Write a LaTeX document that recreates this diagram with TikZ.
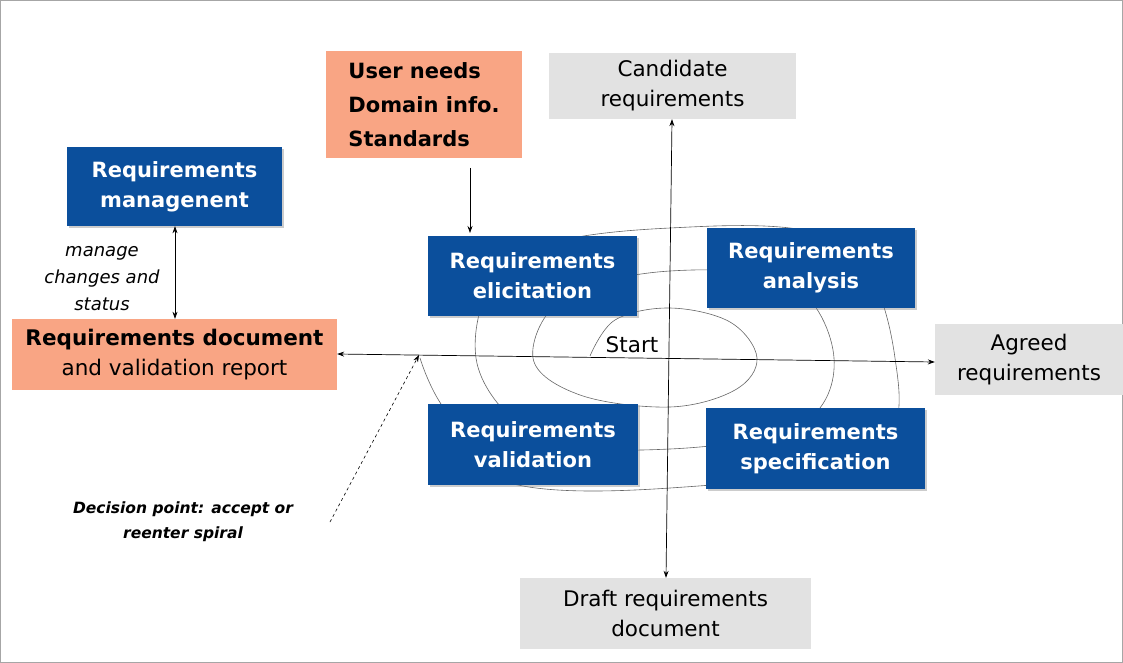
\documentclass[tikz,border=0pt]{standalone}
\usepackage{fontspec}
\setmainfont{DejaVu Sans}
\usetikzlibrary{arrows.meta,shadows}
\definecolor{bluebox}{HTML}{0B4F9C}
\definecolor{salmon}{HTML}{F9A584}
\definecolor{graybox}{HTML}{E2E2E2}
\tikzset{
 bluestep/.style={draw=none,fill=bluebox,text=white,font=\fontsize{21}{30}\selectfont\bfseries,align=center,drop shadow={shadow xshift=2pt,shadow yshift=-2pt,opacity=0.4}},
 salmonbox/.style={fill=salmon,align=center},
 grayb/.style={fill=graybox,align=center,font=\fontsize{21.5}{30}\selectfont},
 arr/.style={-{Stealth[length=7pt,width=5pt]},line width=0.7pt},
 darr/.style={{Stealth[length=7pt,width=5pt]}-{Stealth[length=7pt,width=5pt]},line width=0.7pt},
}
\begin{document}
\begin{tikzpicture}[x=1pt,y=-1pt]
\useasboundingbox (0,0) rectangle (1123,663);
\draw[gray!70] (0.5,0.5) rectangle (1122.5,662.5);
% spiral
\draw[gray!80!black,line width=0.6pt] plot[smooth,tension=0.6] coordinates{(590,356) (615,320) (670,308) (730,322) (757,358) (735,390) (670,407) (580,395) (533,358) (565,297) (670,271) (790,283) (834,358) (800,425) (670,449) (540,437) (476,358) (515,258) (670,228) (840,242) (895,358) (870,455) (670,488) (500,480) (441,404) (420,358)};
% nodes
\node[salmonbox,minimum width=196pt,minimum height=107pt,font=\fontsize{21}{34}\selectfont\bfseries,align=left] (user) at (424,104.5) {User needs\\Domain info.\\Standards};
\node[grayb,minimum width=247pt,minimum height=66pt] (cand) at (672.5,86) {Candidate\\requirements};
\node[bluestep,minimum width=215pt,minimum height=79pt] (mgmt) at (174.5,186.5) {Requirements\\managenent};
\node[bluestep,minimum width=209pt,minimum height=80pt] (elic) at (532.5,276) {Requirements\\elicitation};
\node[bluestep,minimum width=208pt,minimum height=80pt] (anal) at (811,268) {Requirements\\analysis};
\node[salmonbox,minimum width=325pt,minimum height=71pt,font=\fontsize{21.5}{30}\selectfont] (doc) at (174.5,354.5) {\textbf{Requirements document}\\and validation report};
\node[grayb,minimum width=188pt,minimum height=71pt] (agreed) at (1029,359.5) {Agreed\\requirements};
\node[bluestep,minimum width=210pt,minimum height=81pt] (valid) at (533,444.5) {Requirements\\validation};
\node[bluestep,minimum width=219pt,minimum height=81pt] (spec) at (815.5,448.5) {Requirements\\specification};
\node[grayb,minimum width=291pt,minimum height=71pt] (draft) at (665.5,613.5) {Draft requirements\\document};
\node[font=\fontsize{21.5}{26}\selectfont] (start) at (632,345) {Start};
\node[font=\fontsize{18}{27}\selectfont\itshape,align=center] (manage) at (102,279) {manage\\changes and\\status};
\node[font=\fontsize{15.5}{25}\selectfont\bfseries\itshape,align=center] (dec) at (183,522) {Decision point: accept or\\reenter spiral};
\coordinate (decA) at (330,522);
\coordinate (decB) at (419,355);
% connectors
\draw[darr] (draft.north -| 666,0) -- (cand.south -| 672,0);
\draw[darr] (doc.east |- 0,354) -- (agreed.west |- 0,362);
\draw[arr] (470,168) -- (470,233);
\draw[darr] (mgmt.south -| 175,0) -- (doc.north -| 175,0);
\draw[arr,dashed,line width=0.6pt] (decA) -- (decB);
\end{tikzpicture}
\end{document}
